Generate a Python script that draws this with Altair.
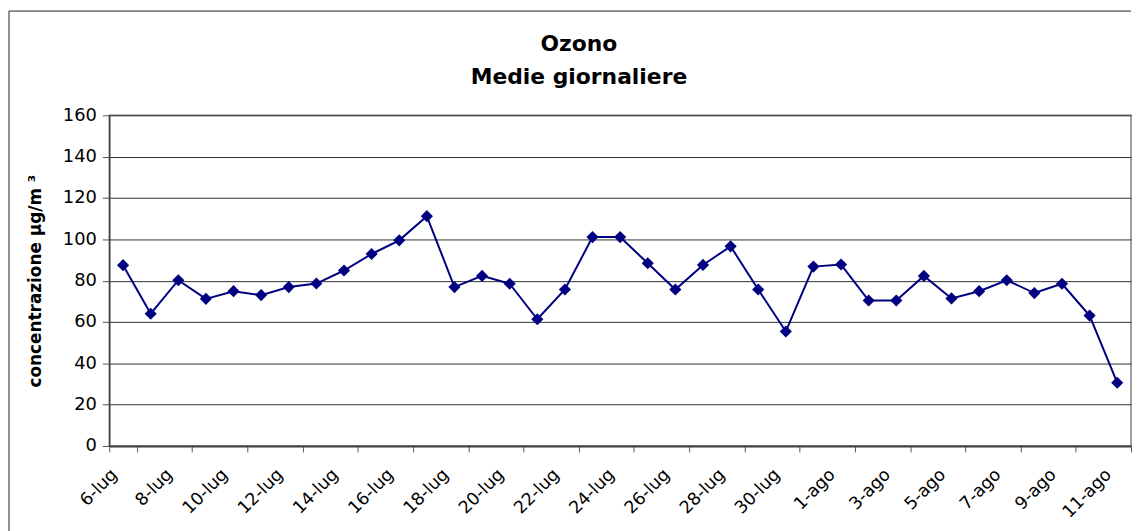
import altair as alt
import pandas as pd

dates = ["6-lug", "7-lug", "8-lug", "9-lug", "10-lug", "11-lug", "12-lug", "13-lug",
         "14-lug", "15-lug", "16-lug", "17-lug", "18-lug", "19-lug", "20-lug", "21-lug",
         "22-lug", "23-lug", "24-lug", "25-lug", "26-lug", "27-lug", "28-lug", "29-lug",
         "30-lug", "31-lug", "1-ago", "2-ago", "3-ago", "4-ago", "5-ago", "6-ago",
         "7-ago", "8-ago", "9-ago", "10-ago", "11-ago"]
values = [87.5, 64.0, 80.2, 71.2, 74.9, 73.0, 76.9, 78.6, 84.9, 92.9, 99.5, 111.2,
          76.9, 82.3, 78.5, 61.3, 75.7, 101.1, 101.1, 88.4, 75.7, 87.6, 96.6, 75.7,
          55.4, 86.8, 87.8, 70.4, 70.4, 82.3, 71.4, 74.9, 80.2, 74.0, 78.5, 63.1, 30.6]
tick_labels = dates[::2]
y_ticks = [0, 20, 40, 60, 80, 100, 120, 140, 160]
title_lines = ["Ozono", "Medie giornaliere"]

df = pd.DataFrame({"giorno": dates, "valore": values})

FONT = "DejaVu Sans"
NAVY = "#000080"
W, H = 1029, 333

x_enc = alt.X(
    "giorno:O",
    sort=dates,
    scale=alt.Scale(type="band", domain=dates, paddingInner=0, paddingOuter=0),
    axis=alt.Axis(
        values=tick_labels, tickBand="extent", labelAngle=315,
        labelAlign="right", labelBaseline="middle",
        labelFontSize=17.5, labelColor="#000", labelPadding=20, labelOffset=-9,
        labelFont=FONT,
        tickSize=6, tickColor="#555", domainColor="#404040", domainWidth=2,
        grid=False, title=None,
    ),
)
y_enc = alt.Y(
    "valore:Q",
    scale=alt.Scale(domain=[0, 160], nice=False, zero=True),
    axis=alt.Axis(
        values=y_ticks, title="concentrazione µg/m ³",
        titleFont=FONT, titleFontSize=17, titleFontWeight="bold", titleColor="#000",
        titlePadding=18, labelFont=FONT, labelFontSize=18, labelColor="#000",
        labelPadding=6, tickSize=7, tickColor="#555",
        domainColor="#404040", domainWidth=1.5,
        grid=True, gridColor="#303030", gridWidth=1,
    ),
)

base = alt.Chart(df).encode(x=x_enc, y=y_enc)
line = base.mark_line(color=NAVY, strokeWidth=2)
pts = base.mark_point(shape="diamond", filled=True, color=NAVY, size=150, opacity=1)

one = pd.DataFrame({"k": [0]})
frame_left = alt.Chart(one).mark_rule(color="#222", strokeWidth=1).encode(
    x=alt.value(-101), y=alt.value(-105), y2=alt.value(480)
)
frame_top = alt.Chart(one).mark_rule(color="#222", strokeWidth=1).encode(
    x=alt.value(-101), x2=alt.value(W), y=alt.value(-105)
)
title1 = alt.Chart(pd.DataFrame({"t": [title_lines[0]]})).mark_text(
    fontSize=22, fontWeight="bold", font=FONT, color="#000", align="center", baseline="alphabetic"
).encode(text="t:N", x=alt.value(473), y=alt.value(-65))
title2 = alt.Chart(pd.DataFrame({"t": [title_lines[1]]})).mark_text(
    fontSize=22, fontWeight="bold", font=FONT, color="#000", align="center", baseline="alphabetic"
).encode(text="t:N", x=alt.value(473), y=alt.value(-32))

chart = alt.layer(frame_left, frame_top, title1, title2, line, pts).properties(
    width=W,
    height=H,
    padding={"left": 0, "top": 0, "right": 0, "bottom": 0},
).configure(font=FONT).configure_view(stroke="#808080", strokeWidth=1.5)

chart.save("out.html", embed_options={"renderer": "svg", "actions": False})
